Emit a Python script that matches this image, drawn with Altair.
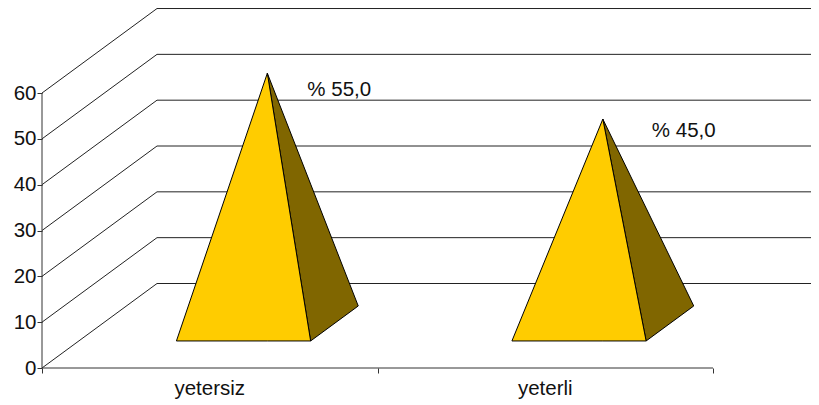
import altair as alt
import pandas as pd

categories = ["yetersiz", "yeterli"]
values = [55.0, 45.0]
value_labels = ["% 55,0", "% 45,0"]
grid_levels = [0, 10, 20, 30, 40, 50, 60]

# chart geometry (oblique 3D projection, in data units)
PX_X, PX_Y = 335.5, 4.583
LEFT, BOTTOM, RIGHT = 42, 368, 811
DEPTH_X, DEPTH_Y = 115 / PX_X, 84.5 / PX_Y
X_MAX = (RIGHT - LEFT) / PX_X
Y_MAX = (BOTTOM - 8) / PX_Y
Z_FRONT, Z_BACK = 0.32, 0.734
Z_APEX_X, Z_APEX_Y = 0.527, 0.505
HALF = 0.2
CENTER_SHIFT = -0.009


def project(x, v, z):
    return x + DEPTH_X * z, v + DEPTH_Y * z


def triangle(p, q, r, group):
    a, b, c = sorted([p, q, r])
    mid = a[1] + (c[1] - a[1]) * (b[0] - a[0]) / (c[0] - a[0])
    return [
        {"x": a[0], "y": a[1], "y2": a[1], "g": group},
        {"x": b[0], "y": b[1], "y2": mid, "g": group},
        {"x": c[0], "y": c[1], "y2": c[1], "g": group},
    ]


grid_rows, front_rows, side_rows, label_rows = [], [], [], []
for lv in grid_levels:
    x0, y0 = project(0, lv, 0)
    x1, y1 = project(0, lv, 1)
    grid_rows += [
        {"x": x0, "y": y0, "lv": lv, "o": 0},
        {"x": x1, "y": y1, "lv": lv, "o": 1},
        {"x": X_MAX, "y": y1, "lv": lv, "o": 2},
    ]

for i, (cat, val, lab) in enumerate(zip(categories, values, value_labels)):
    cx = i + 0.5 + CENTER_SHIFT
    fl = project(cx - HALF, 0, Z_FRONT)
    fr = project(cx + HALF, 0, Z_FRONT)
    br = project(cx + HALF, 0, Z_BACK)
    apex = (project(cx, 0, Z_APEX_X)[0], project(cx, 0, Z_APEX_Y)[1] + val)
    front_rows += triangle(fl, fr, apex, cat)
    side_rows += triangle(apex, fr, br, cat)
    label_rows.append({"x": apex[0], "y": apex[1], "t": lab})

x_scale = alt.Scale(domain=[0, X_MAX], nice=False, zero=False)
y_scale = alt.Scale(domain=[0, Y_MAX], nice=False, zero=False)
FONT = "Liberation Sans"
FS = 20.5

x_axis = alt.Axis(
    values=[0, 1, 2], labels=False, title=None, grid=False, ticks=True, tickSize=5,
    tickColor="#333333", domain=False,
)
y_axis = alt.Axis(
    values=grid_levels, title=None, grid=False, tickSize=5, tickColor="#333333",
    domain=False, labelFont=FONT, labelFontSize=FS, labelColor="#111111", labelPadding=1,
)

grid = alt.Chart(pd.DataFrame(grid_rows)).mark_line(color="#222222", strokeWidth=1, clip=True).encode(
    x=alt.X("x:Q", scale=x_scale, axis=x_axis),
    y=alt.Y("y:Q", scale=y_scale, axis=y_axis),
    detail="lv:N",
    order="o:Q",
)

x_line = alt.Chart(pd.DataFrame({"x": [0, 2], "y": [0, 0]})).mark_line(color="#333333", strokeWidth=1).encode(
    x=alt.X("x:Q", scale=x_scale), y=alt.Y("y:Q", scale=y_scale))
y_line = alt.Chart(pd.DataFrame({"x": [0, 0], "y": [0, 60]})).mark_line(color="#333333", strokeWidth=1).encode(
    x=alt.X("x:Q", scale=x_scale), y=alt.Y("y:Q", scale=y_scale))


def faces(rows, color):
    return alt.Chart(pd.DataFrame(rows)).mark_area(
        color=color, stroke="#000000", strokeWidth=1, strokeJoin="miter"
    ).encode(
        x=alt.X("x:Q", scale=x_scale),
        y=alt.Y("y:Q", scale=y_scale, stack=None),
        y2="y2:Q",
        detail="g:N",
    )


side = faces(side_rows, "#806600")
front = faces(front_rows, "#FFCC00")

cat_df = pd.DataFrame({"x": [i + 0.5 for i in range(len(categories))], "y": [0] * len(categories), "t": categories})
cat_text = alt.Chart(cat_df).mark_text(
    font=FONT, fontSize=FS, color="#111111", dy=21, baseline="middle"
).encode(x=alt.X("x:Q", scale=x_scale), y=alt.Y("y:Q", scale=y_scale), text="t:N")

label_offsets = [(40, 17), (49, 12)]
label_layers = []
for row, (dx, dy) in zip(label_rows, label_offsets):
    label_layers.append(
        alt.Chart(pd.DataFrame([row])).mark_text(
            font=FONT, fontSize=FS, color="#111111", align="left", baseline="middle", dx=dx, dy=dy
        ).encode(x=alt.X("x:Q", scale=x_scale), y=alt.Y("y:Q", scale=y_scale), text="t:N")
    )

chart = alt.layer(
    grid, x_line, y_line, side, front, cat_text, *label_layers
).properties(
    width=RIGHT - LEFT,
    height=BOTTOM - 8,
    padding={"left": LEFT - 8, "top": 0, "right": 0, "bottom": 33},
    autosize=alt.AutoSizeParams(type="none"),
).configure_view(stroke=None)

chart.save("out.html", embed_options={"renderer": "svg", "actions": False})
